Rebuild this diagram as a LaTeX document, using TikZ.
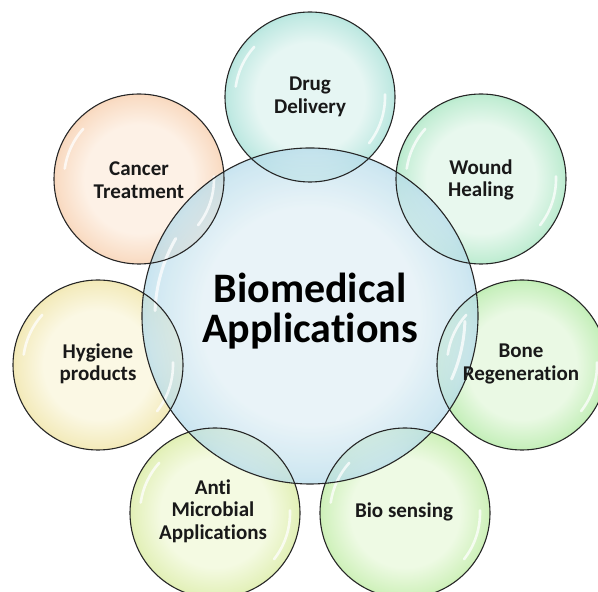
\documentclass[tikz,border=0pt]{standalone}
\usepackage{fontspec}
\setmainfont{Carlito}[Ligatures=CommonOff]
\definecolor{gin}{HTML}{FFFFFF}
\definecolor{gout}{HTML}{888888}
\definecolor{cancerin}{HTML}{FDF1E6}\definecolor{cancerout}{HTML}{EE9E60}
\definecolor{druin}{HTML}{E6F6F3}\definecolor{druout}{HTML}{4EC2B0}
\definecolor{woundin}{HTML}{E8F8EE}\definecolor{woundout}{HTML}{4ECC84}
\definecolor{bonein}{HTML}{EAF9E4}\definecolor{boneout}{HTML}{62D44A}
\definecolor{bioin}{HTML}{EEFAE4}\definecolor{bioout}{HTML}{7CD84C}
\definecolor{antiin}{HTML}{F4FAE2}\definecolor{antiout}{HTML}{B4D648}
\definecolor{hygin}{HTML}{FBF8E4}\definecolor{hygout}{HTML}{DEC64C}
\definecolor{cenin}{HTML}{E1EFF5}\definecolor{cenout}{HTML}{4AAAD0}
\pgfdeclareradialshading[gin,gout]{glass}{\pgfpoint{0bp}{0bp}}{color(0bp)=(gin); color(16bp)=(gin); color(24bp)=(gin!75!gout); color(30bp)=(gin!40!gout); color(33.5bp)=(gout); color(35.4bp)=(gout!85!black); color(50bp)=(gout!85!black)}
\tikzset{
  bubble/.style n args={3}{circle, inner sep=0pt, minimum size=#1,
     /utils/exec={\colorlet{gin}{#2}\colorlet{gout}{#3}}, shading=glass},
  rim/.style={draw=black!85, line width=1.1pt},
  hl/.style={draw=white, line width=2.6pt, line cap=round, opacity=0.75},
  lbl/.style={font=\fontsize{21}{22.5}\selectfont\bfseries, align=center, text=black!90},
}
\begin{document}
\begin{tikzpicture}[x=1pt,y=1pt]
\useasboundingbox (0,0) rectangle (598,592);
% outer bubbles
\node[bubble={170pt}{cancerin}{cancerout}] (cancer) at (139,413) {};
\node[bubble={170pt}{druin}{druout}] (drug) at (310,495) {};
\node[bubble={170pt}{woundin}{woundout}] (wound) at (481,413) {};
\node[bubble={170pt}{bonein}{boneout}] (bone) at (522,227) {};
\node[bubble={170pt}{bioin}{bioout}] (bio) at (405,79) {};
\node[bubble={170pt}{antiin}{antiout}] (anti) at (215,79) {};
\node[bubble={170pt}{hygin}{hygout}] (hyg) at (98,227) {};
% central bubble
\begin{scope}[fill opacity=0.72]
\node[bubble={336pt}{cenin}{cenout}] (cen) at (310,276) {};
\end{scope}
% highlights
\foreach \n in {cancer,drug,wound,bone,bio,anti,hyg}{
  \draw[hl] (\n.center) ++(138:75) arc[start angle=138, end angle=172, radius=75];
  \draw[hl] (\n.center) ++(-38:75) arc[start angle=-38, end angle=2, radius=75];
}
\draw[hl, line width=3pt] (cen.center) ++(150:155) arc[start angle=150, end angle=178, radius=155];
\draw[hl, line width=3pt] (cen.center) ++(-24:155) arc[start angle=-24, end angle=-2, radius=155];
% outlines
\foreach \n in {cancer,drug,wound,bone,bio,anti,hyg}{
  \draw[rim] (\n.center) circle[radius=85pt];
}
\draw[rim] (cen.center) circle[radius=168pt];
% labels
\node[align=center, font=\fontsize{42}{40}\selectfont\bfseries] (cenT) at (310,281) {Biomedical\\Applications};
\node[lbl] (cancerT) at (139,412) {Cancer\\Treatment};
\node[lbl] (drugT) at (310,495) {Drug\\Delivery};
\node[lbl] (woundT) at (481,412) {Wound\\Healing};
\node[lbl] (boneT) at (521,228) {Bone\\Regeneration};
\node[lbl] (bioT) at (404,80) {Bio sensing};
\node[lbl] (antiT) at (213,81) {Anti\\Microbial\\Applications};
\node[lbl] (hygT) at (98,228) {Hygiene\\products};
\end{tikzpicture}
\end{document}
